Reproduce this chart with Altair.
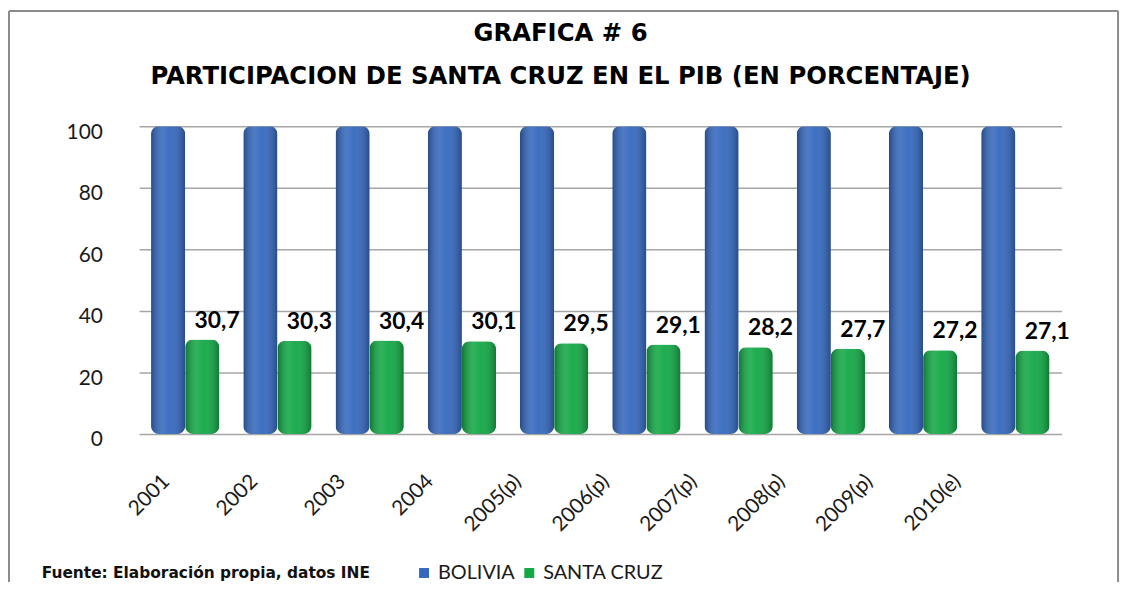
import altair as alt
import pandas as pd

years = ["2001", "2002", "2003", "2004", "2005(p)", "2006(p)", "2007(p)", "2008(p)", "2009(p)", "2010(e)"]
bolivia = [100, 100, 100, 100, 100, 100, 100, 100, 100, 100]
santa_cruz = [30.7, 30.3, 30.4, 30.1, 29.5, 29.1, 28.2, 27.7, 27.2, 27.1]
series = ["BOLIVIA", "SANTA CRUZ"]
colors = ["#3468BE", "#12A845"]

rows = []
for i, yr in enumerate(years):
    rows.append({"year": yr, "series": "BOLIVIA", "value": bolivia[i]})
    rows.append({"year": yr, "series": "SANTA CRUZ", "value": santa_cruz[i]})
df = pd.DataFrame(rows)
df["label"] = df["value"].map(lambda v: f"{v:.1f}".replace(".", ","))
years_df = pd.DataFrame({"year": years})

FONT = "Lato"

x = alt.X("year:N", sort=years,
          scale=alt.Scale(paddingInner=0.26, paddingOuter=0.13), axis=None)
xo = alt.XOffset("series:N", sort=series, scale=alt.Scale(paddingInner=0.0))
y = alt.Y("value:Q", scale=alt.Scale(domain=[0, 100]),
          axis=alt.Axis(values=[0, 20, 40, 60, 80, 100], title=None, labelFontSize=21,
                        labelFont=FONT, labelColor="#1a1a1a", ticks=False, domain=False,
                        labelPadding=37, labelOffset=6, gridColor="#A6A6A6", gridWidth=1.5))

base = alt.Chart(df)

bars = base.mark_bar(cornerRadius=8).encode(
    x=x, xOffset=xo, y=y,
    color=alt.Color("series:N", sort=series,
                    scale=alt.Scale(domain=series, range=colors),
                    legend=alt.Legend(title="Fuente: Elaboración propia, datos INE",
                                      orient="none", legendX=-98, legendY=440,
                                      direction="horizontal", titleOrient="left",
                                      titleFontSize=15.5, titleFont="DejaVu Sans",
                                      titleFontWeight="bold",
                                      titleColor="#111111", titlePadding=44, titleLimit=600,
                                      labelFontSize=20, labelFont=FONT, labelColor="#1a1a1a",
                                      symbolType="square", symbolSize=100, symbolStrokeWidth=0,
                                      columnPadding=4, labelOffset=4)),
)

shade = base.mark_bar(
    cornerRadius=8,
    fill=alt.LinearGradient(
        gradient="linear", x1=0, x2=1, y1=0, y2=0,
        stops=[
            alt.GradientStop(color="rgba(0,0,0,0.30)", offset=0),
            alt.GradientStop(color="rgba(255,255,255,0.12)", offset=0.35),
            alt.GradientStop(color="rgba(255,255,255,0.05)", offset=0.55),
            alt.GradientStop(color="rgba(0,0,0,0.28)", offset=1),
        ],
    ),
).encode(x=x, xOffset=xo, y=y)

labels = base.transform_filter(alt.datum.series == "SANTA CRUZ").mark_text(
    font=FONT, fontWeight="bold", fontSize=23, color="#000000",
    baseline="bottom", dy=-7, dx=15,
).encode(x=x, xOffset=xo, y=y, text="label:N")

# category labels on the (perspective) floor edge, slanted 45 degrees
xlabels = alt.Chart(years_df).mark_text(
    font=FONT, fontSize=21, color="#1a1a1a", angle=315, align="right", baseline="alphabetic",
).encode(
    x=alt.X("year:N", sort=years, axis=None,
            scale=alt.Scale(type="point", range=[32, 828.5], padding=0)),
    y=alt.value(359),
    text="year:N",
)

frame_df = pd.DataFrame({"k": [0]})
frame = alt.Chart(frame_df)
top_line = frame.mark_rule(color="#8c8c8c", strokeWidth=2).encode(
    x=alt.value(-131), x2=alt.value(986), y=alt.value(-116))
left_line = frame.mark_rule(color="#8c8c8c", strokeWidth=2).encode(
    x=alt.value(-131), y=alt.value(-116), y2=alt.value(470))
right_line = frame.mark_rule(color="#8c8c8c", strokeWidth=2).encode(
    x=alt.value(986), y=alt.value(-116), y2=alt.value(470))

main = alt.layer(bars, shade, labels, top_line, left_line, right_line)

chart = alt.layer(main, xlabels).resolve_scale(x="independent").properties(
    width=929, height=310,
    title=alt.Title(["GRAFICA # 6", "PARTICIPACION DE SANTA CRUZ EN EL PIB (EN PORCENTAJE)"],
                    font="DejaVu Sans", fontSize=24.5, fontWeight="bold",
                    color="#000000", anchor="middle", dx=-40, offset=0, dy=80, lineHeight=43),
    autosize=alt.AutoSizeParams(type="none"),
    padding={"left": 132, "top": 117, "right": 63, "bottom": 147},
).configure_view(stroke=None)

chart.save("out.html", embed_options={"renderer": "svg", "actions": False})
